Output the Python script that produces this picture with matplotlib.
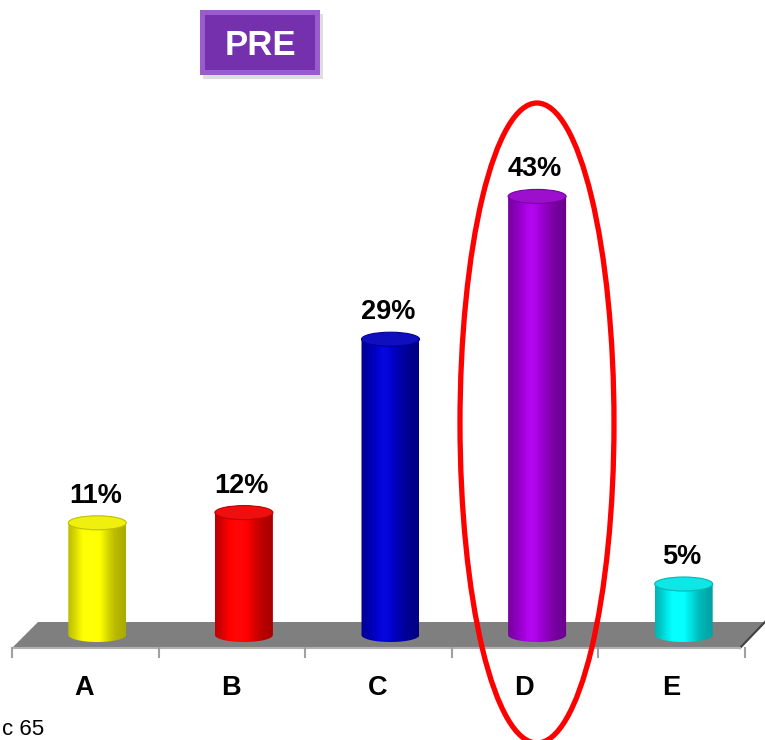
import numpy as np
import matplotlib
matplotlib.use("Agg")
import matplotlib.pyplot as plt
from matplotlib.patches import Ellipse, Polygon, PathPatch, Rectangle
from matplotlib.path import Path
from matplotlib.colors import to_rgb

categories = ['A', 'B', 'C', 'D', 'E']
values = [11, 12, 29, 43, 5]
colors = ['#FFFF00', '#FF0000', '#0000C8', '#A000D8', '#00F4F4']

W, H = 765, 740
fig = plt.figure(figsize=(W / 100, H / 100), dpi=100)
ax = fig.add_axes([0, 0, 1, 1])

# map pixels to data: x px 12 -> -0.5, px 745 -> 4.5 ; baseline px 635, 10.2 px per %
ux = 5 / 733
ax.set_xlim(-0.5 - 12 * ux, 4.5 + 20 * ux)
ky = 10.2
ax.set_ylim(-(H - 635) / ky, 635 / ky)
ax.axis('off')

def py(p):
    return (635 - p) / ky

def px(p):
    return -0.5 + (p - 12) * ux

# floor
floor = Polygon([(px(12), py(648)), (px(740), py(648)), (px(765), py(622)), (px(38), py(622))],
                closed=True, facecolor='#7F7F7F', edgecolor='none', zorder=1)
ax.add_patch(floor)
ax.plot([px(740), px(765)], [py(648), py(622)], color='#404040', lw=1.5, zorder=1.5)
ax.plot([px(12), px(740)], [py(648), py(648)], color='#B0B0B0', lw=1.5, zorder=1.5)
for t in np.arange(-0.5, 5, 1):
    ax.plot([t, t], [py(648), py(657)], color='#A0A0A0', lw=1.5, zorder=1.5)

# bars as shaded cylinders
bw = 58 * ux
eh = 14 / ky
off = 12 * ux
for i, (v, c) in enumerate(zip(values, colors)):
    xc = i + off
    x0, x1 = xc - bw / 2, xc + bw / 2
    base = np.array(to_rgb(c))
    s = np.linspace(0, 1, 64)
    shade = 0.66 + 0.42 * np.exp(-((s - 0.4) / 0.32) ** 2)
    grad = np.clip(base[None, :] * shade[:, None] + 0.3 * np.clip(shade[:, None] - 1.0, 0, 1), 0, 1)
    t = np.linspace(np.pi, 2 * np.pi, 40)
    verts = [(x0, v), (x0, 0)] + [(xc + bw / 2 * np.cos(a), eh / 2 * np.sin(a)) for a in t] + [(x1, v), (x0, v)]
    clip = PathPatch(Path(verts, closed=True), facecolor='none', edgecolor='none')
    ax.add_patch(clip)
    im = ax.imshow(grad[None, :, :], extent=[x0, x1, -eh, v], aspect='auto', zorder=2,
                   interpolation='bilinear')
    im.set_clip_path(clip)
    top = np.clip(base * 0.88 + 0.06, 0, 1)
    ax.add_patch(Ellipse((xc, v), bw, eh, facecolor=top, edgecolor=np.clip(base * 0.75, 0, 1),
                         lw=0.8, zorder=3))
    ax.text(xc - 2 * ux, v + 2.65, f'{v}%', ha='center', va='center', fontsize=19.5,
            fontweight='bold', family='Liberation Sans', zorder=4)

# category labels
for i, cat in enumerate(categories):
    ax.text(i - 0.005, py(688), cat, ha='center', va='center', fontsize=19.5,
            fontweight='bold', family='Liberation Sans')

# highlight ellipse around D
ax.add_patch(Ellipse((px(537), py(423)), 154 * ux, 640 / ky, facecolor='none',
                     edgecolor='#FF0000', lw=3.8, zorder=5, clip_on=False))

# PRE badge
ft = fig.transFigure
fig.patches.append(Rectangle((203 / W, 1 - 79 / H), 120 / W, 65 / H, transform=ft,
                             facecolor='#C8C8C8', edgecolor='none', alpha=0.6))
fig.patches.append(Rectangle((200 / W, 1 - 75 / H), 120 / W, 65 / H, transform=ft,
                             facecolor='#9A5CCB', edgecolor='none'))
fig.patches.append(Rectangle((205 / W, 1 - 70 / H), 110 / W, 55 / H, transform=ft,
                             facecolor='#7530AE', edgecolor='none'))
fig.text(260 / W, 1 - 45.5 / H, 'PRE', ha='center', va='center', color='white',
         fontsize=25, fontweight='bold', family='Liberation Sans')

fig.text(2 / W, 1 - 719 / H, 'c 65', ha='left', va='top', fontsize=16,
         family='Liberation Sans')

fig.savefig('out.png', dpi=100)
